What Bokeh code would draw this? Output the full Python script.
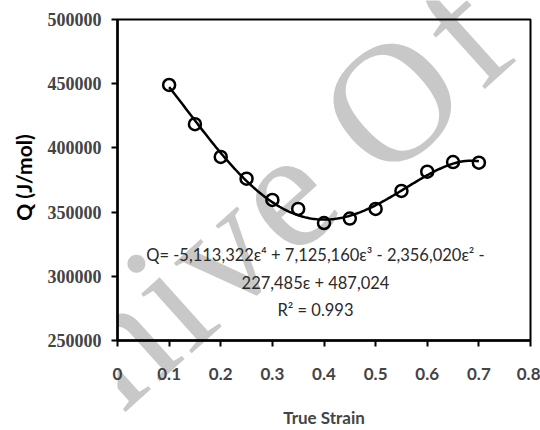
import numpy as np
from bokeh.plotting import figure
from bokeh.layouts import column
from bokeh.models import Range1d, FixedTicker, Label, NumeralTickFormatter
from bokeh.embed import file_html
from bokeh.resources import INLINE

strain = [0.10, 0.15, 0.20, 0.25, 0.30, 0.35, 0.40, 0.45, 0.50, 0.55, 0.60, 0.65, 0.70]
q_values = [449000, 418500, 393000, 376000, 359500, 352500, 341500, 345000, 352500, 366500, 381500, 389000, 388500]
fit_coeffs = [-5113322, 7125160, -2356020, -227485, 487024]
x_ticks = [0, 0.1, 0.2, 0.3, 0.4, 0.5, 0.6, 0.7, 0.8]
x_tick_labels = ["0", "0.1", "0.2", "0.3", "0.4", "0.5", "0.6", "0.7", "0.8"]
y_ticks = [250000, 300000, 350000, 400000, 450000, 500000]
eq_lines = ["Q= -5,113,322\u03b5\u2074 + 7,125,160\u03b5\u00b3 - 2,356,020\u03b5\u00b2 -",
            "227,485\u03b5 + 487,024",
            "R\u00b2 = 0.993"]
watermark_letters = ["c", "h", "i", "v", "e", "O", "f"]

W, H = 540, 430

# background figure carrying only the watermark (its frame covers the whole canvas)
bg = figure(width=W, height=H, output_backend="svg", toolbar_location=None,
            x_axis_type=None, y_axis_type=None, min_border=0,
            x_range=Range1d(0, 1), y_range=Range1d(0, 1))
bg.outline_line_color = None
bg.grid.visible = False
bg.background_fill_color = "white"
bg.border_fill_color = "white"
wm_anchor = [(54, 399), (116, 343), (168, 297), (219, 250), (282, 194), (391, 101), (462, 32)]
for ch, (ax, ay) in zip(watermark_letters, wm_anchor):
    bg.add_layout(Label(x=ax, y=ay, x_units="canvas", y_units="canvas", text=ch,
                        angle=42, angle_units="deg",
                        text_font="Liberation Serif", text_font_size="170px",
                        text_color="#c8c8c8", text_align="center",
                        text_baseline="alphabetic"))

p = figure(width=W, height=H, output_backend="svg", toolbar_location=None,
           x_range=Range1d(0, 0.8), y_range=Range1d(250000, 500000),
           min_border_left=117, min_border_right=10, min_border_top=19, min_border_bottom=88)
p.background_fill_color = None
p.border_fill_color = None
p.grid.visible = False
p.outline_line_color = "black"
p.outline_line_width = 2
p.margin = (-H, 0, 0, 0)

# fitted curve
xs = np.linspace(strain[0], strain[-1], 200)
ys = np.polyval(fit_coeffs, xs)
p.line(xs, ys, line_color="black", line_width=2.5)
p.scatter(strain, q_values, marker="circle", size=12, fill_color=None,
          line_color="black", line_width=2.5)

# x axis
xa = p.xaxis[0]
xa.ticker = FixedTicker(ticks=x_ticks)
xa.major_label_overrides = {t: l for t, l in zip(x_ticks, x_tick_labels)}
xa.axis_line_width = 2.5
xa.major_tick_line_width = 2
xa.major_tick_out = 6
xa.major_tick_in = 0
xa.minor_tick_out = 0
xa.minor_tick_in = 0
xa.major_label_text_font = "Lato"
xa.major_label_text_font_style = "bold"
xa.major_label_text_font_size = "17px"
xa.major_label_standoff = 21
xa.axis_label = "True Strain"
xa.axis_label_text_font = "Lato"
xa.axis_label_text_font_style = "bold"
xa.axis_label_text_font_size = "17px"
xa.axis_label_standoff = 24

ya = p.yaxis[0]
ya.ticker = FixedTicker(ticks=y_ticks)
ya.formatter = NumeralTickFormatter(format="0")
ya.axis_line_width = 2.5
ya.major_tick_line_width = 2
ya.major_tick_out = 6
ya.major_tick_in = 0
ya.minor_tick_out = 0
ya.minor_tick_in = 0
ya.major_label_text_font = "Liberation Serif"
ya.major_label_text_font_style = "bold"
ya.major_label_text_font_size = "18px"
ya.major_label_standoff = 10

ylab = Label(x=23, y=177, x_units="canvas", y_units="canvas", text="Q (J/mol)",
             angle=90, angle_units="deg",
             text_font="Lato", text_font_style="bold", text_font_size="21px",
             text_color="black", text_align="center", text_baseline="middle")
p.add_layout(ylab, "left")

for txt, yy in zip(eq_lines, [316500, 295000, 274000]):
    p.add_layout(Label(x=0.3835, y=yy, text=txt, text_font="Lato", text_font_size="16.5px",
                       text_color="#2a2a2a", text_align="center", text_baseline="middle"))

layout = column(bg, p, spacing=0)
open("out.html", "w").write(file_html(layout, INLINE))
